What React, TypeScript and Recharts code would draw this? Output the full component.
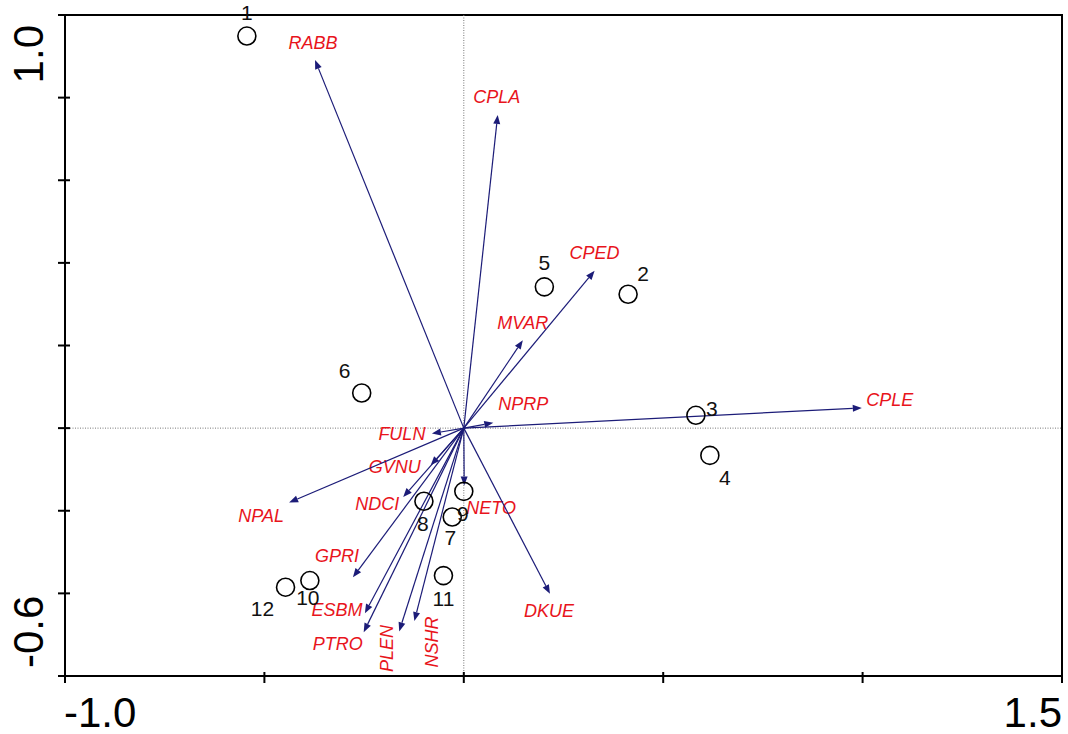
import React from 'react';
import {
  ScatterChart,
  Scatter,
  XAxis,
  YAxis,
  ReferenceLine,
  ReferenceArea,
} from 'recharts';

// site scores (samples)
const siteNames = ['1', '2', '3', '4', '5', '6', '7', '8', '9', '10', '11', '12'];
const siteX = [-0.544, 0.412, 0.582, 0.617, 0.202, -0.256, -0.029, -0.1, 0.0, -0.386, -0.051, -0.447];
const siteY = [0.949, 0.324, 0.031, -0.066, 0.342, 0.085, -0.215, -0.177, -0.153, -0.369, -0.357, -0.385];

// species arrows
const speciesNames = [
  'RABB', 'CPLA', 'CPED', 'MVAR', 'NPRP', 'CPLE', 'FULN', 'GVNU', 'NDCI',
  'NPAL', 'GPRI', 'ESBM', 'PTRO', 'PLEN', 'NSHR', 'NETO', 'DKUE',
];
const speciesX = [-0.373, 0.085, 0.328, 0.148, 0.074, 0.998, -0.08, -0.083, -0.152, -0.438, -0.278, -0.248, -0.251, -0.162, -0.124, 0.001, 0.216];
const speciesY = [0.891, 0.758, 0.381, 0.213, 0.013, 0.049, -0.013, -0.09, -0.167, -0.18, -0.361, -0.448, -0.494, -0.492, -0.467, -0.139, -0.401];

const xTicks = [-1.0, -0.5, 0, 0.5, 1.0, 1.5];
const yTicks = [-0.6, -0.4, -0.2, 0, 0.2, 0.4, 0.6, 0.8, 1.0];

// label placement (pixels from the point)
const siteLabelPos: Record<string, [number, number]> = {
  '1': [0, -24], '2': [15, -21], '3': [16, -7], '4': [15, 22], '5': [0, -24], '6': [-17, -23],
  '7': [-2, 21], '8': [-1, 22], '9': [-1, 22], '10': [-2, 17], '11': [0, 23], '12': [-23, 21],
};
const speciesLabelPos: Record<string, [number, number, number?]> = {
  RABB: [-2, -17], CPLA: [-1, -18], CPED: [0, -18], MVAR: [0, -17], NPRP: [30, -19],
  CPLE: [28, -8], FULN: [-30, 1], GVNU: [-36, 2], NDCI: [-26, 7], NPAL: [-28, 14],
  GPRI: [-16, -21], ESBM: [-28, -3], PTRO: [-26, 12], PLEN: [-12, 17, -90],
  NSHR: [18, 21, -90], NETO: [27, 22], DKUE: [-1, 17],
};

const ARROW = '#1c1c78';
const RED = '#e8141c';
const FONT = '"Liberation Sans", Arial, sans-serif';

const sites = siteNames.map((name, i) => ({ name, x: siteX[i], y: siteY[i] }));

function SiteShape(props: any) {
  const { cx, cy, payload } = props;
  const [dx, dy] = siteLabelPos[payload.name];
  return (
    <g>
      <circle cx={cx} cy={cy} r={9} fill="none" stroke="#000" strokeWidth={1.6} />
      <text
        x={cx + dx}
        y={cy + dy}
        textAnchor="middle"
        dominantBaseline="central"
        fontFamily={FONT}
        fontSize={21}
        fill="#111"
      >
        {payload.name}
      </text>
    </g>
  );
}

function makeArrow(name: string) {
  return (props: any) => {
    const { x1, y1, x2, y2 } = props;
    const ang = Math.atan2(y2 - y1, x2 - x1);
    const len = 9;
    const half = 3.5;
    const bx = x2 - len * Math.cos(ang);
    const by = y2 - len * Math.sin(ang);
    const px = -Math.sin(ang) * half;
    const py = Math.cos(ang) * half;
    const [dx, dy, rot] = speciesLabelPos[name];
    const lx = x2 + dx;
    const ly = y2 + dy;
    return (
      <g>
        <line x1={x1} y1={y1} x2={bx} y2={by} stroke={ARROW} strokeWidth={1.2} />
        <polygon points={`${x2},${y2} ${bx + px},${by + py} ${bx - px},${by - py}`} fill={ARROW} />
        <text
          x={lx}
          y={ly}
          textAnchor="middle"
          dominantBaseline="central"
          fontFamily={FONT}
          fontStyle="italic"
          fontSize={18}
          fill={RED}
          transform={rot ? `rotate(${rot} ${lx} ${ly})` : undefined}
        >
          {name}
        </text>
      </g>
    );
  };
}

function XTick(props: any) {
  const { x, y, payload } = props;
  const v = payload.value;
  let label = null;
  if (v === -1) {
    label = (
      <text x={x - 1} y={y + 51} textAnchor="start" fontFamily={FONT} fontSize={42} fill="#000">
        -1.0
      </text>
    );
  } else if (v === 1.5) {
    label = (
      <text x={x} y={y + 51} textAnchor="end" fontFamily={FONT} fontSize={42} fill="#000">
        1.5
      </text>
    );
  }
  return (
    <g>
      <line x1={x} y1={y - 4} x2={x} y2={y + 7} stroke="#000" strokeWidth={2} />
      {label}
    </g>
  );
}

function YTick(props: any) {
  const { x, y, payload } = props;
  const v = payload.value;
  let label = null;
  if (Math.abs(v - 1) < 1e-6) {
    label = (
      <text
        x={43}
        y={y + 10}
        textAnchor="end"
        fontFamily={FONT}
        fontSize={42}
        fill="#000"
        transform={`rotate(-90 43 ${y + 10})`}
      >
        1.0
      </text>
    );
  } else if (Math.abs(v + 0.6) < 1e-6) {
    label = (
      <text
        x={43}
        y={y - 8}
        textAnchor="start"
        fontFamily={FONT}
        fontSize={42}
        fill="#000"
        transform={`rotate(-90 43 ${y - 8})`}
      >
        -0.6
      </text>
    );
  }
  return (
    <g>
      <line x1={x - 7} y1={y} x2={x + 5} y2={y} stroke="#000" strokeWidth={2} />
      {label}
    </g>
  );
}

export default function App() {
  return (
    <div style={{ position: 'absolute', left: 0, top: 0, width: 1068, height: 734, background: '#fff' }}>
      <ScatterChart width={1068} height={734} margin={{ top: 15, right: 6, bottom: 0, left: 0 }}>
        <XAxis
          type="number"
          dataKey="x"
          domain={[-1, 1.5]}
          ticks={xTicks}
          height={58}
          axisLine={{ stroke: '#000', strokeWidth: 2 }}
          tickLine={false}
          tickSize={0}
          tickMargin={0}
          tick={<XTick />}
          interval={0}
        />
        <YAxis
          type="number"
          dataKey="y"
          domain={[-0.6, 1.0]}
          ticks={yTicks}
          width={65}
          axisLine={{ stroke: '#000', strokeWidth: 2 }}
          tickLine={false}
          tickSize={0}
          tickMargin={0}
          tick={<YTick />}
          interval={0}
        />
        <ReferenceArea x1={-1} x2={1.5} y1={-0.6} y2={1.0} fill="none" stroke="#000" strokeWidth={2} />
        <ReferenceLine x={0} stroke="#777" strokeDasharray="1 1.5" strokeWidth={1} />
        <ReferenceLine y={0} stroke="#777" strokeDasharray="1 1.5" strokeWidth={1} />
        {speciesNames.map((name, i) => (
          <ReferenceLine
            key={name}
            segment={[
              { x: 0, y: 0 },
              { x: speciesX[i], y: speciesY[i] },
            ]}
            shape={makeArrow(name)}
          />
        ))}
        <Scatter data={sites} shape={<SiteShape />} isAnimationActive={false} />
      </ScatterChart>
    </div>
  );
}
